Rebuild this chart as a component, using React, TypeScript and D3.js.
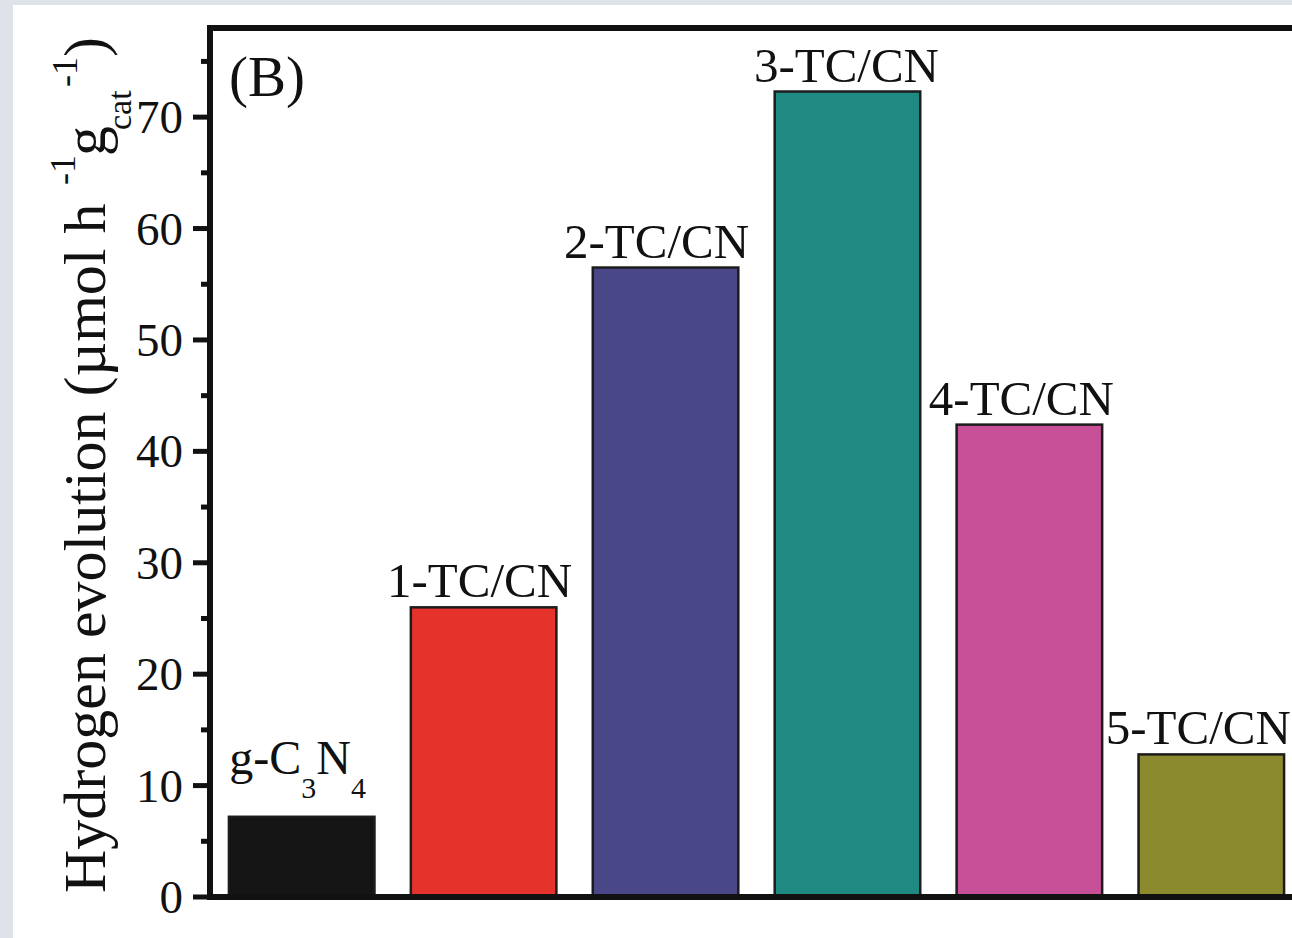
import React, { useEffect, useRef } from "react";
import * as d3 from "d3";

// samples and their H2 evolution rate (µmol h-1 g_cat-1)
const samples = ["g-C3N4", "1-TC/CN", "2-TC/CN", "3-TC/CN", "4-TC/CN", "5-TC/CN"];
const rates = [7.2, 26.0, 56.5, 72.3, 42.4, 12.8];
const barColors = ["#151515", "#e5322b", "#4a4789", "#1f8a82", "#c64f97", "#8b8a2e"];
const majorTicks = [0, 10, 20, 30, 40, 50, 60, 70];
const minorTicks = [5, 15, 25, 35, 45, 55, 65, 75];

const W = 1292;
const H = 938;
const FONT = "'Liberation Serif', 'Times New Roman', serif";
// labels in the original sit a little left of the bar centres
const labelShift = [-4, -4, -9, -1, -8, -13];

export default function App() {
  const ref = useRef<SVGSVGElement | null>(null);

  useEffect(() => {
    const svg = d3.select(ref.current);
    svg.selectAll("*").remove();

    const left = 210;
    const right = 1303; // frame continues past the cropped edge
    const top = 28;
    const bottom = 897;

    // page background + white figure area
    svg.append("rect").attr("width", W).attr("height", H).attr("fill", "#dde3e9");
    svg.append("rect").attr("x", 13).attr("y", 5).attr("width", W - 13).attr("height", H - 5).attr("fill", "#ffffff");

    const x = d3.scaleBand<string>()
      .domain(samples)
      .range([left, right])
      .paddingInner(0.2)
      .paddingOuter(0.104);

    const y = d3.scaleLinear().domain([0, 78]).range([bottom, top]);

    const data = samples.map((s, i) => ({ name: s, value: rates[i], color: barColors[i] }));

    // bars
    svg.append("g")
      .selectAll("rect")
      .data(data)
      .enter()
      .append("rect")
      .attr("x", (d) => x(d.name)!)
      .attr("y", (d) => y(d.value))
      .attr("width", x.bandwidth())
      .attr("height", (d) => bottom - y(d.value))
      .attr("fill", (d) => d.color)
      .attr("stroke", "#1c1c1c")
      .attr("stroke-width", 2.5);

    // labels above bars
    const labels = svg.append("g").attr("font-family", FONT).attr("fill", "#111");
    data.forEach((d, i) => {
      const cx = x(d.name)! + x.bandwidth() / 2 + labelShift[i];
      if (d.name === "g-C3N4") {
        const t = labels.append("text")
          .attr("x", cx)
          .attr("y", y(d.value) - 43)
          .attr("text-anchor", "middle")
          .attr("font-size", 48);
        t.append("tspan").text("g-C");
        t.append("tspan").attr("font-size", 30).attr("dy", 24).text("3");
        t.append("tspan").attr("dy", -24).text("N");
        t.append("tspan").attr("font-size", 30).attr("dy", 24).text("4");
      } else {
        labels.append("text")
          .attr("x", cx)
          .attr("y", y(d.value) - 10)
          .attr("text-anchor", "middle")
          .attr("font-size", 49)
          .text(d.name);
      }
    });

    // frame
    const frame = svg.append("g").attr("stroke", "#111").attr("stroke-width", 6).attr("fill", "none");
    frame.append("line").attr("x1", left).attr("x2", left).attr("y1", top - 3).attr("y2", bottom + 3);
    frame.append("line").attr("x1", left - 3).attr("x2", right).attr("y1", top).attr("y2", top);
    frame.append("line").attr("x1", left - 3).attr("x2", right).attr("y1", bottom).attr("y2", bottom);

    // y ticks
    const ticks = svg.append("g").attr("stroke", "#111").attr("stroke-width", 5);
    ticks.selectAll("line.major")
      .data(majorTicks)
      .enter()
      .append("line")
      .attr("class", "major")
      .attr("x1", left - 17)
      .attr("x2", left)
      .attr("y1", (d) => y(d))
      .attr("y2", (d) => y(d));
    ticks.selectAll("line.minor")
      .data(minorTicks)
      .enter()
      .append("line")
      .attr("class", "minor")
      .attr("x1", left - 9)
      .attr("x2", left)
      .attr("y1", (d) => y(d))
      .attr("y2", (d) => y(d));

    svg.append("g")
      .attr("font-family", FONT)
      .attr("font-size", 47)
      .attr("fill", "#111")
      .selectAll("text")
      .data(majorTicks)
      .enter()
      .append("text")
      .attr("x", 183)
      .attr("y", (d) => y(d))
      .attr("dy", "0.34em")
      .attr("text-anchor", "end")
      .text((d) => d);

    // panel letter
    svg.append("text")
      .attr("x", 229)
      .attr("y", 96)
      .attr("font-family", FONT)
      .attr("font-size", 57)
      .attr("fill", "#111")
      .text("(B)");

    // y axis title (runs bottom to top; tspan x = distance along the text)
    const title = svg.append("text")
      .attr("transform", "translate(105, 893) rotate(-90)")
      .attr("font-family", FONT)
      .attr("font-size", 60)
      .attr("fill", "#111");
    title.append("tspan").attr("x", 0).attr("y", 0).text("Hydrogen evolution (\u00b5mol h");
    title.append("tspan").attr("x", 708).attr("y", -30).attr("font-size", 36).text("-1");
    title.append("tspan").attr("x", 737).attr("y", 0).text("g");
    title.append("tspan").attr("x", 763).attr("y", 26).attr("font-size", 34).text("cat");
    title.append("tspan").attr("x", 806).attr("y", -28).attr("font-size", 36).text("-1");
    title.append("tspan").attr("x", 836).attr("y", 0).text(")");
  }, []);

  return (
    <svg
      ref={ref}
      width={W}
      height={H}
      style={{ position: "absolute", left: 0, top: 0, display: "block" }}
    />
  );
}
